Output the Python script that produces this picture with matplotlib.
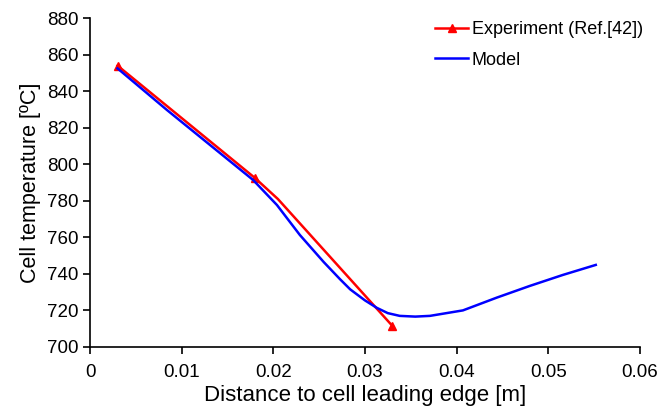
import matplotlib
matplotlib.use("Agg")
import matplotlib.pyplot as plt

plt.rcParams["font.family"] = ["Liberation Sans", "DejaVu Sans"]

# experiment (Ref.[42]) - markers at measured points, plus a kink in the drawn line
exp_x = [0.003, 0.018, 0.0205, 0.033]
exp_t = [854, 792.5, 781, 711.5]
exp_marks = [0, 1, 3]

# model curve
model_x = [0.003, 0.0084, 0.0178, 0.0204, 0.0229, 0.0255, 0.0273, 0.0284, 0.030,
           0.0313, 0.0325, 0.0338, 0.0355, 0.0371, 0.0407, 0.0444, 0.048, 0.0516,
           0.0552]
model_t = [852.5, 829.7, 791.4, 777.7, 761.3, 746.5, 737, 731.5, 725.5,
           721.4, 718.5, 717, 716.6, 717, 720, 727, 733.4, 739.4,
           744.9]

fig = plt.figure(figsize=(6.72, 4.13), dpi=100)
ax = fig.add_axes([0.134, 0.160, 0.818, 0.796])

ax.plot(exp_x, exp_t, color="#ff0000", lw=1.8, marker="^", ms=6,
        markevery=exp_marks, label="Experiment (Ref.[42])")
ax.plot(model_x, model_t, color="#0000ff", lw=1.8, label="Model")

ax.set_xlim(0, 0.06)
ax.set_ylim(700, 880)
ax.set_xticks([0, 0.01, 0.02, 0.03, 0.04, 0.05, 0.06])
ax.set_xticklabels(["0", "0.01", "0.02", "0.03", "0.04", "0.05", "0.06"])
ax.set_yticks(range(700, 881, 20))

for s in ["top", "right"]:
    ax.spines[s].set_visible(False)
for s in ["left", "bottom"]:
    ax.spines[s].set_linewidth(1.2)
ax.tick_params(direction="out", length=5, width=1.2, labelsize=13.5)
ax.tick_params(axis="x", pad=7)

ax.set_xlabel("Distance to cell leading edge [m]", fontsize=16, labelpad=3)
ax.set_ylabel("Cell temperature [ºC]", fontsize=15.5, labelpad=4)

ax.legend(loc="upper right", bbox_to_anchor=(1.035, 1.04), frameon=False,
          fontsize=13, handlelength=1.8, handletextpad=0.2, labelspacing=0.75)

fig.savefig("out.png", dpi=100)
